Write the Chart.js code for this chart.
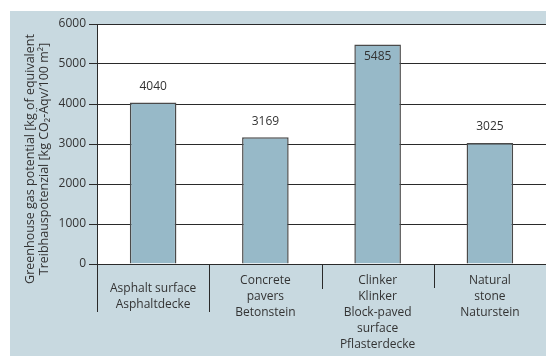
<!DOCTYPE html>
<html>
<head>
<meta charset="utf-8">
<script src="https://cdn.jsdelivr.net/npm/chart.js@4/dist/chart.umd.min.js"></script>
<style>
  html, body { margin: 0; padding: 0; background: #ffffff; }
  #wrap { width: 546px; height: 356px; position: relative; }
</style>
</head>
<body>
<div id="wrap"><canvas id="c" width="546" height="356"></canvas></div>
<script>
// Surface types (English / German)
const categories = [
  ["Asphalt surface", "Asphaltdecke"],
  ["Concrete", "pavers", "Betonstein"],
  ["Clinker", "Klinker", "Block-paved", "surface", "Pflasterdecke"],
  ["Natural", "stone", "Naturstein"]
];
// Greenhouse gas potential, kg CO2 equivalent per 100 m²
const ghgValues = [4040, 3169, 5485, 3025];
const yTicks = [0, 1000, 2000, 3000, 4000, 5000, 6000];
const yTitle = [
  "Greenhouse gas potential [kg of equivalent",
  "Treibhauspotenzial [kg CO\u2082-\u00C4qv/100 m\u00B2]"
];

const FONT = '"Open Sans", "Noto Sans", sans-serif';
const INK = '#333333';
const LINE = '#2a2a2a';
const PANEL = '#c8d9e0';
const BAR = '#97b9c8';

// Panel background, white plot area and axis decorations
const decor = {
  id: 'decor',
  beforeDraw(chart) {
    const { ctx, chartArea: a } = chart;
    ctx.save();
    ctx.fillStyle = '#ffffff';
    ctx.fillRect(0, 0, chart.width, chart.height);
    ctx.fillStyle = PANEL;
    ctx.fillRect(10, 11, chart.width - 10, chart.height - 11);
    ctx.fillStyle = '#ffffff';
    ctx.fillRect(a.left, a.top, a.right - a.left, a.bottom - a.top);
    ctx.restore();
  },
  afterDraw(chart) {
    const { ctx, chartArea: a } = chart;
    const xs = chart.scales.x;
    ctx.save();
    // category separators below the axis
    const sepLen = [48, 48, 25, 24];
    ctx.strokeStyle = LINE;
    ctx.lineWidth = 1;
    for (let i = 0; i < categories.length; i++) {
      const px = Math.round(xs.getPixelForValue(i - 0.5)) + 0.5;
      ctx.beginPath();
      ctx.moveTo(px, a.bottom);
      ctx.lineTo(px, a.bottom + sepLen[i]);
      ctx.stroke();
    }
    // category labels, centred in a block of at least three lines
    ctx.fillStyle = INK;
    ctx.font = '12px ' + FONT;
    ctx.textAlign = 'center';
    ctx.textBaseline = 'middle';
    const lh = 16;
    categories.forEach((lines, i) => {
      const cx = xs.getPixelForValue(i);
      const shift = Math.max(0, (3 - lines.length) / 2) * lh;
      lines.forEach((t, k) => ctx.fillText(t, cx, a.bottom + 17 + shift + k * lh));
    });
    // value labels above the bars (inside when there is no room)
    const meta = chart.getDatasetMeta(0);
    ctx.font = '12px ' + FONT;
    meta.data.forEach((bar, i) => {
      let y = bar.y - 16;
      if (y - 7 < a.top) y = bar.y + 12;
      ctx.fillText(String(ghgValues[i]), bar.x, y);
    });
    // rotated axis title
    ctx.translate(37, 159);
    ctx.rotate(-Math.PI / 2);
    ctx.font = '12.5px ' + FONT;
    ctx.fillText(yTitle[0], 0, -7);
    ctx.fillText(yTitle[1], 0, 7);
    ctx.restore();
  }
};

new Chart(document.getElementById('c'), {
  type: 'bar',
  data: {
    labels: categories,
    datasets: [{
      data: ghgValues,
      backgroundColor: BAR,
      borderColor: '#4a4a4a',
      borderWidth: 1.5,
      barPercentage: 0.415,
      categoryPercentage: 1
    }]
  },
  options: {
    responsive: false,
    animation: false,
    devicePixelRatio: 1,
    layout: { padding: { top: 24, right: -6, bottom: 92, left: 0 } },
    plugins: { legend: { display: false }, tooltip: { enabled: false } },
    scales: {
      x: {
        ticks: { display: false },
        grid: { display: false, drawTicks: false },
        border: { display: false }
      },
      y: {
        min: 0,
        max: 6000,
        afterFit(scale) { scale.width = 97; },
        afterBuildTicks(scale) { scale.ticks = yTicks.map(v => ({ value: v })); },
        ticks: {
          color: INK,
          font: { family: FONT, size: 12 },
          padding: 3,
          callback: v => String(v)
        },
        grid: { color: LINE, lineWidth: 1, tickLength: 8, drawTicks: true, tickColor: LINE },
        border: { display: true, color: LINE, width: 1 }
      }
    }
  },
  plugins: [decor]
});
</script>
</body>
</html>
